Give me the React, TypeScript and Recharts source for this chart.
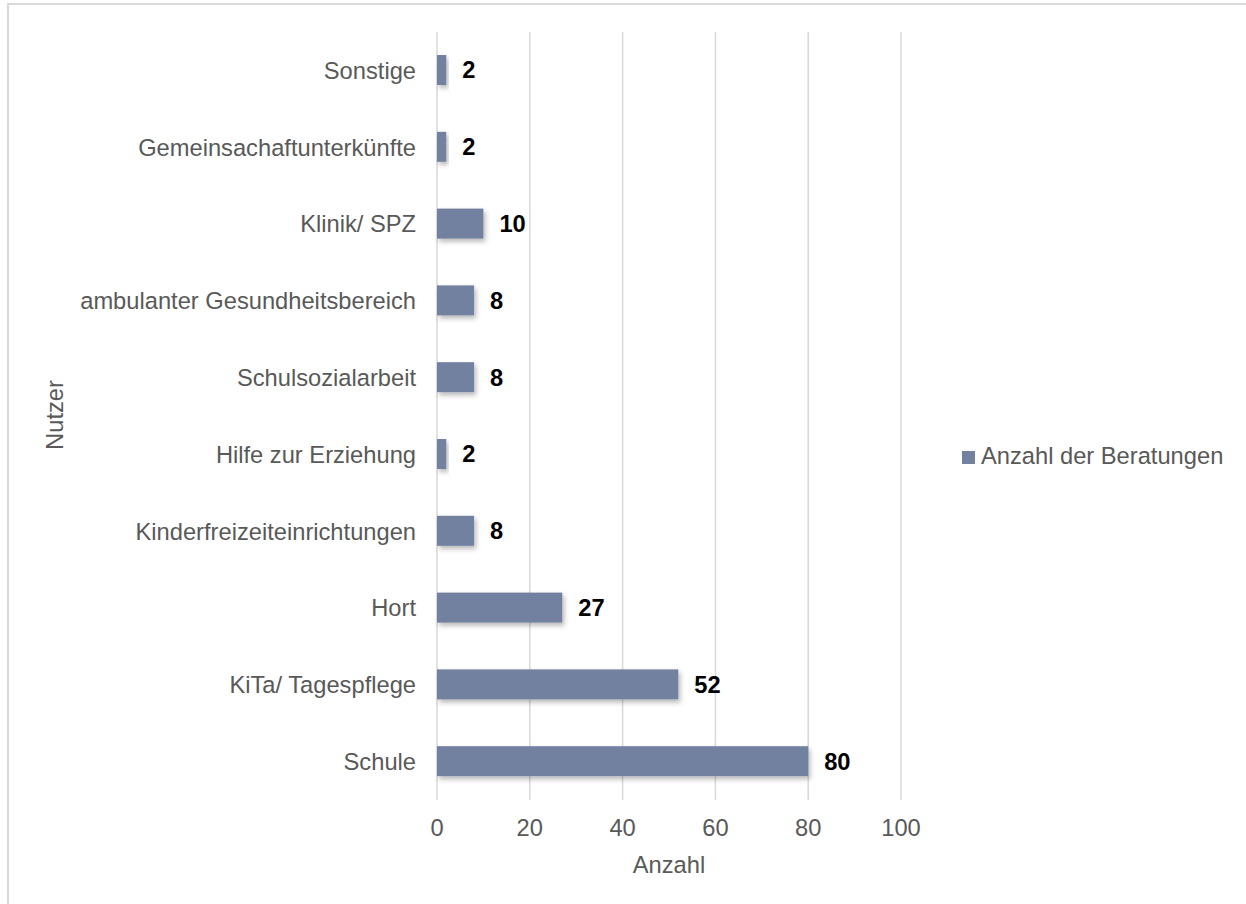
import { BarChart, Bar, XAxis, YAxis, CartesianGrid, Legend, LabelList } from 'recharts';

const CATEGORIES = [
  'Sonstige',
  'Gemeinsachaftunterkünfte',
  'Klinik/ SPZ',
  'ambulanter Gesundheitsbereich',
  'Schulsozialarbeit',
  'Hilfe zur Erziehung',
  'Kinderfreizeiteinrichtungen',
  'Hort',
  'KiTa/ Tagespflege',
  'Schule',
];
const BERATUNGEN = [2, 2, 10, 8, 8, 2, 8, 27, 52, 80];
const X_TICKS = [0, 20, 40, 60, 80, 100];

const data = CATEGORIES.map((name, i) => ({ name, value: BERATUNGEN[i] }));

const FONT = '"Liberation Sans", Arial, sans-serif';
const GREY = '#595959';
const BAR = '#72819f';
const FS = 23.7;

function ShadowBar(props: any) {
  const { x, y, width, height } = props;
  if (width == null || height == null) return null;
  return <rect x={x} y={y} width={Math.max(width, 0)} height={height} fill={BAR} filter="url(#barShadow)" />;
}

export default function App() {
  return (
    <div style={{ position: 'absolute', left: 0, top: 0, width: 1246, height: 904, overflow: 'hidden', background: '#fff', fontFamily: FONT }}>
      <div style={{ position: 'absolute', left: 7, top: 3, width: 1270, height: 940, border: '2px solid #d9d9d9', boxSizing: 'border-box' }} />
      <div style={{ position: 'absolute', left: 0, top: 0 }}>
        <BarChart
          width={1246}
          height={904}
          data={data}
          layout="vertical"
          margin={{ top: 32, right: 345, bottom: 24, left: 0 }}
          barSize={30}
        >
          <defs>
            <filter id="barShadow" x="-10%" y="-30%" width="130%" height="180%">
              <feDropShadow dx={2} dy={3} stdDeviation={2.5} floodColor="#000" floodOpacity={0.28} />
            </filter>
          </defs>
          <CartesianGrid vertical horizontal={false} stroke="#d9d9d9" strokeWidth={1.5} />
          <XAxis
            type="number"
            domain={[0, 100]}
            ticks={X_TICKS}
            axisLine={false}
            tickLine={false}
            tickMargin={13}
            height={80}
            tick={{ fill: GREY, fontSize: FS, fontFamily: FONT }}
            label={{ value: 'Anzahl', position: 'insideBottom', offset: 7, fill: GREY, fontSize: FS, fontFamily: FONT }}
          />
          <YAxis
            type="category"
            dataKey="name"
            width={437}
            axisLine={false}
            tickLine={false}
            tickSize={0}
            tickMargin={21}
            interval={0}
            tick={{ fill: GREY, fontSize: FS, fontFamily: FONT }}
          />
          <text x={55} y={415} transform="rotate(-90 55 415)" textAnchor="middle" dominantBaseline="central" fill={GREY} fontSize={FS} fontFamily={FONT}>
            Nutzer
          </text>
          <Legend
            layout="horizontal"
            verticalAlign="middle"
            align="center"
            iconType="square"
            iconSize={13}
            wrapperStyle={{ position: 'absolute', left: 962, top: 443, width: 'auto', fontFamily: FONT, fontSize: FS }}
            formatter={(v: string) => <span style={{ color: GREY, marginLeft: 2 }}>{v}</span>}
          />
          <Bar dataKey="value" name="Anzahl der Beratungen" fill={BAR} shape={ShadowBar} isAnimationActive={false}>
            <LabelList dataKey="value" position="right" offset={16} fill="#000" fontSize={FS} fontWeight="bold" fontFamily={FONT} />
          </Bar>
        </BarChart>
      </div>
    </div>
  );
}
